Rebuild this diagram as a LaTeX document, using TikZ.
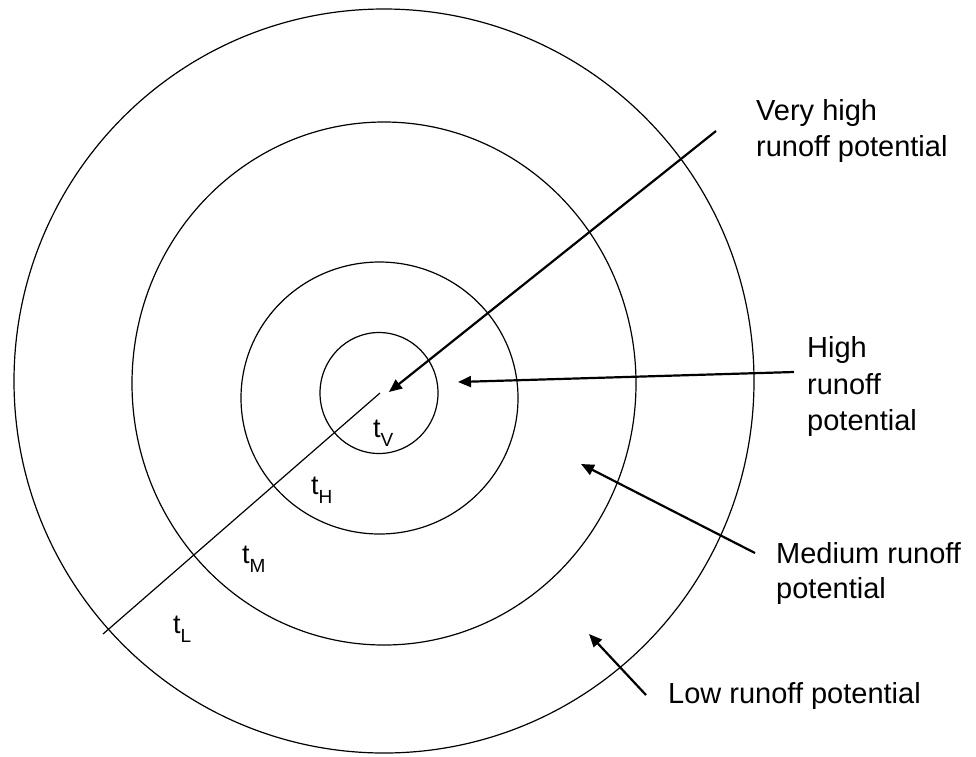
\documentclass[tikz,border=0pt]{standalone}
\usepackage{fontspec}
\setmainfont{Liberation Sans}
\usetikzlibrary{arrows.meta}
\tikzset{
  ring/.style={draw=black, line width=1.2pt},
  pointer/.style={draw=black, line width=2.2pt, -{Triangle[length=13pt,width=11pt]}},
  radial/.style={draw=black, line width=1.2pt},
  lbl/.style={anchor=base west, inner sep=0pt, font=\fontsize{29}{34}\selectfont},
  tlbl/.style={anchor=base west, inner sep=0pt, font=\fontsize{27}{30}\selectfont}
}
\newcommand{\tsub}[1]{t\raisebox{-9pt}{\fontsize{19}{19}\selectfont #1}}
\begin{document}
\begin{tikzpicture}[x=1pt,y=-1pt]
\useasboundingbox (0,0) rectangle (976,756);
% rings
\draw[ring] (384,381) ellipse [x radius=370pt, y radius=372pt];
\draw[ring] (384,383.5) ellipse [x radius=252pt, y radius=261.5pt];
\draw[ring] (379.5,398) ellipse [x radius=138.5pt, y radius=136pt];
\draw[ring] (379,393) ellipse [x radius=59pt, y radius=60.5pt];
% radial line
\coordinate (rc) at (380,393);
\coordinate (re) at (103,634);
\draw[radial] (rc) -- (re);
% t labels
\node[tlbl] (tv) at (373,437) {\tsub{V}};
\node[tlbl] (th) at (311,494) {\tsub{H}};
\node[tlbl] (tm) at (242,563) {\tsub{M}};
\node[tlbl] (tl) at (173,633) {\tsub{L}};
% text labels
\node[lbl] (vh1) at (756,120) {Very high};
\node[lbl] (vh2) at (756,156) {runoff potential};
\node[lbl] (h1) at (807,357) {High};
\node[lbl] (h2) at (807,394) {runoff};
\node[lbl] (h3) at (807,430) {potential};
\node[lbl] (m1) at (776,563) {Medium runoff};
\node[lbl] (m2) at (776,598) {potential};
\node[lbl] (l1) at (668,703) {Low runoff potential};
% arrow endpoints
\coordinate (avs) at (716,131);
\coordinate (ave) at (389,392);
\coordinate (ahs) at (794,372);
\coordinate (ahe) at (458,382);
\coordinate (ams) at (755,553);
\coordinate (ame) at (581,464);
\coordinate (als) at (646,695);
\coordinate (ale) at (589,634);
\draw[pointer] (avs) -- (ave);
\draw[pointer] (ahs) -- (ahe);
\draw[pointer] (ams) -- (ame);
\draw[pointer] (als) -- (ale);
\end{tikzpicture}
\end{document}
